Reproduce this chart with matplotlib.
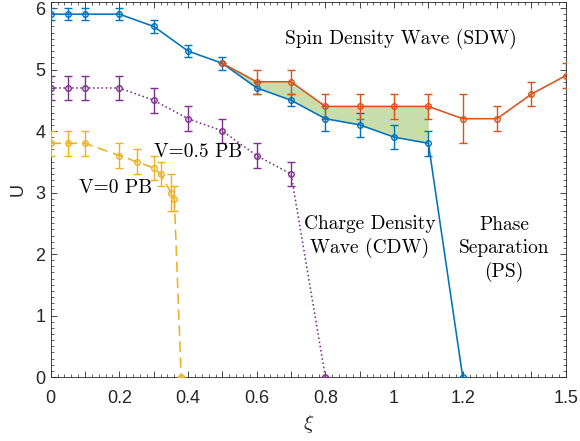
import numpy as np
import matplotlib
matplotlib.use('Agg')
import matplotlib.pyplot as plt
from matplotlib.ticker import MultipleLocator, FixedLocator

# phase boundary data
xi_sdw = [0, 0.05, 0.1, 0.2, 0.3, 0.4, 0.5, 0.6, 0.7, 0.8, 0.9, 1.0, 1.1, 1.2]
u_sdw = [5.9, 5.9, 5.9, 5.9, 5.7, 5.3, 5.1, 4.7, 4.5, 4.2, 4.1, 3.9, 3.8, 0]
err_sdw = [0.1, 0.1, 0.1, 0.1, 0.1, 0.1, 0.1, 0.1, 0.1, 0.2, 0.2, 0.2, 0.2, 0]

xi_ps = [0.5, 0.6, 0.7, 0.8, 0.9, 1.0, 1.1, 1.2, 1.3, 1.4, 1.5]
u_ps = [5.1, 4.8, 4.8, 4.4, 4.4, 4.4, 4.4, 4.2, 4.2, 4.6, 4.9]
err_ps = [0, 0.2, 0.2, 0.2, 0.2, 0.2, 0.2, 0.4, 0.2, 0.2, 0.2]

xi_v05 = [0, 0.05, 0.1, 0.2, 0.3, 0.4, 0.5, 0.6, 0.7, 0.8]
u_v05 = [4.7, 4.7, 4.7, 4.7, 4.5, 4.2, 4.0, 3.6, 3.3, 0]
err_v05 = [0.2, 0.2, 0.2, 0.2, 0.2, 0.2, 0.2, 0.2, 0.2, 0]

xi_v0 = [0, 0.05, 0.1, 0.2, 0.25, 0.3, 0.32, 0.35, 0.36, 0.38]
u_v0 = [3.8, 3.8, 3.8, 3.6, 3.5, 3.4, 3.3, 3.0, 2.9, 0]
err_v0 = [0.2, 0.2, 0.2, 0.2, 0.2, 0.2, 0.2, 0.3, 0.2, 0]

xtick_labels = ['0', '', '0.2', '', '0.4', '', '0.6', '', '0.8', '',
                '1', '', '1.2', '', '', '1.5']

blue = '#0072BD'
orange = '#D95319'
yellow = '#EDB120'
purple = '#7E2F8E'
green = '#77AC30'

plt.rcParams['font.family'] = ['Liberation Sans', 'DejaVu Sans']
plt.rcParams['mathtext.fontset'] = 'cm'

fig = plt.figure(figsize=(5.8, 4.41), dpi=100)
ax = fig.add_axes([0.0874, 0.1451, 0.888, 0.8507])

# shaded coexistence region between the SDW and PS boundaries
i0 = xi_sdw.index(0.5)
i1 = xi_sdw.index(1.1)
j1 = xi_ps.index(1.1)
ax.fill_between(xi_sdw[i0:i1 + 1], u_sdw[i0:i1 + 1], u_ps[:j1 + 1],
                color=green, alpha=0.4, lw=0, zorder=1)

def draw(x, y, e, c, ls):
    ax.errorbar(x, y, yerr=e, color=c, ls=ls, lw=1.15, marker='o', ms=4,
                mfc='none', mew=1.0, elinewidth=1.0, capsize=2.6,
                capthick=1.0, zorder=3)

draw(xi_sdw, u_sdw, err_sdw, blue, '-')
draw(xi_ps, u_ps, err_ps, orange, '-')
draw(xi_v05, u_v05, err_v05, purple, ':')
draw(xi_v0, u_v0, err_v0, yellow, (0, (6.5, 3.5)))

ax.set_xlim(0, 1.5)
ax.set_ylim(0, 6.1)

ax.xaxis.set_major_locator(FixedLocator(np.round(np.arange(0, 1.51, 0.1), 2)))
ax.set_xticklabels(xtick_labels)
ax.xaxis.set_minor_locator(MultipleLocator(0.02))
ax.yaxis.set_major_locator(MultipleLocator(1))
ax.yaxis.set_minor_locator(MultipleLocator(0.1))

ax.tick_params(which='both', direction='in', top=True, right=True,
               color='#262626', labelcolor='#262626', labelsize=13)
ax.tick_params(which='major', length=4.5, width=0.6)
ax.tick_params(which='minor', length=2.2, width=0.5)
ax.tick_params(axis='x', which='major', pad=9)
ax.tick_params(axis='y', which='major', pad=4)
for s in ax.spines.values():
    s.set_color('#262626')
    s.set_linewidth(0.6)

ax.set_xlabel(r'$\xi$', fontsize=15, color='#262626', labelpad=5)
ax.set_ylabel('U', fontsize=13, color='#262626', labelpad=6)

tf = dict(family='cmr10', fontsize=14, ha='center', va='center', color='k')
ax.text(1.02, 5.5, 'Spin Density Wave (SDW)', **tf)
ax.text(0.43, 3.65, 'V=0.5 PB', **tf)
ax.text(0.19, 3.07, 'V=0 PB', **tf)
ax.text(0.93, 2.28, 'Charge Density\nWave (CDW)', linespacing=1.35, **tf)
ax.text(1.32, 2.08, 'Phase\nSeparation\n(PS)', linespacing=1.35, **tf)

fig.savefig('out.png', dpi=100)
